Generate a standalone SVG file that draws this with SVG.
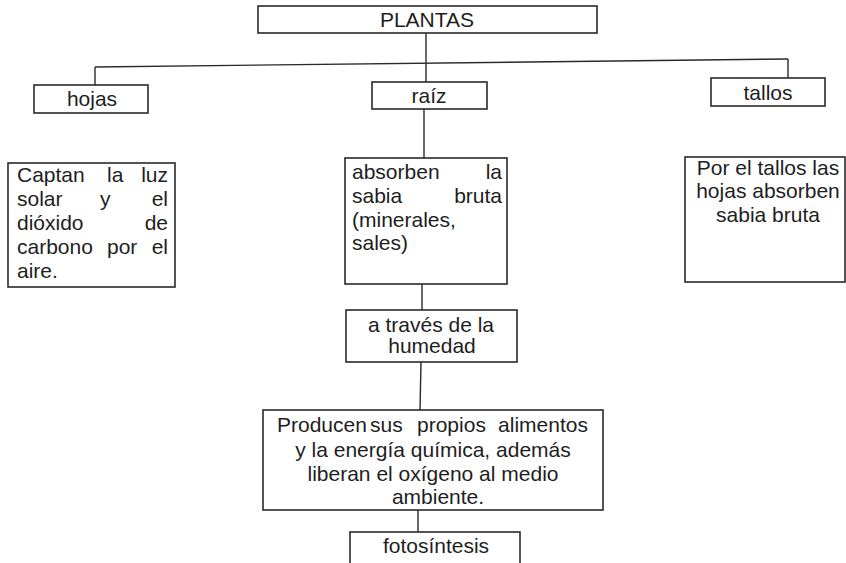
<svg xmlns="http://www.w3.org/2000/svg" width="846" height="563" viewBox="0 0 846 563">
<style>
.box{fill:#fff;stroke:#2a2a2a;stroke-width:1.6}
.ln{fill:none;stroke:#2a2a2a;stroke-width:1.4}
text{font-family:"Liberation Sans",Arial,sans-serif;font-size:21px;fill:#1e1e1e}
.c{text-anchor:middle}
.e{text-anchor:end}
</style>
<rect width="846" height="563" fill="#fff"/>
<g id="connectors">
<line class="ln" x1="426" y1="33" x2="426" y2="82"/>
<line class="ln" x1="95" y1="67" x2="788" y2="59"/>
<line class="ln" x1="95" y1="67" x2="95" y2="85"/>
<line class="ln" x1="788" y1="59" x2="788" y2="78"/>
<line class="ln" x1="424" y1="109" x2="424" y2="158"/>
<line class="ln" x1="422" y1="284" x2="422" y2="310"/>
<line class="ln" x1="421" y1="362" x2="420" y2="410"/>
<line class="ln" x1="418" y1="510" x2="418" y2="537"/>
</g>
<g id="plantas">
<rect class="box" x="258" y="6" width="339" height="27"/>
<text class="c" x="427" y="27">PLANTAS</text>
</g>
<g id="hojas">
<rect class="box" x="34" y="85" width="114" height="28"/>
<text class="c" x="92" y="106">hojas</text>
</g>
<g id="raiz">
<rect class="box" x="372" y="82" width="115" height="27"/>
<text class="c" x="429" y="103">raíz</text>
</g>
<g id="tallos">
<rect class="box" x="711" y="78" width="114" height="28"/>
<text class="c" x="768" y="100">tallos</text>
</g>
<g id="captan">
<rect class="box" x="8" y="163" width="167" height="124"/>
<text x="17" y="182">Captan</text><text x="107" y="182">la</text><text class="e" x="168" y="182">luz</text>
<text x="17" y="206">solar</text><text x="100" y="206">y</text><text class="e" x="168" y="206">el</text>
<text x="17" y="230">dióxido</text><text class="e" x="168" y="230">de</text>
<text x="17" y="254">carbono</text><text x="107" y="254">por</text><text class="e" x="168" y="254">el</text>
<text x="17" y="278">aire.</text>
</g>
<g id="absorben">
<rect class="box" x="345" y="158" width="162" height="126"/>
<text x="352" y="179">absorben</text><text class="e" x="502" y="179">la</text>
<text x="352" y="203">sabia</text><text class="e" x="502" y="203">bruta</text>
<text x="352" y="227">(minerales,</text>
<text x="352" y="250">sales)</text>
</g>
<g id="portallos">
<rect class="box" x="685" y="157" width="160" height="125"/>
<text class="c" x="768" y="175">Por el tallos las</text>
<text class="c" x="768" y="198">hojas absorben</text>
<text class="c" x="768" y="222">sabia bruta</text>
</g>
<g id="atraves">
<rect class="box" x="346" y="310" width="171" height="52"/>
<text class="c" x="431" y="332">a través de la</text>
<text class="c" x="432" y="353">humedad</text>
</g>
<g id="producen">
<rect class="box" x="263" y="410" width="340" height="100"/>
<text x="277" y="432">Producen</text><text x="370" y="432">sus</text><text x="417" y="432">propios</text><text class="e" x="588" y="432">alimentos</text>
<text class="c" x="433" y="457">y la energía química, además</text>
<text class="c" x="433" y="481">liberan el oxígeno al medio</text>
<text class="c" x="438" y="504">ambiente.</text>
</g>
<g id="fotosintesis">
<rect class="box" x="350" y="532" width="170" height="40"/>
<text class="c" x="436" y="553">fotosíntesis</text>
</g>
</svg>
